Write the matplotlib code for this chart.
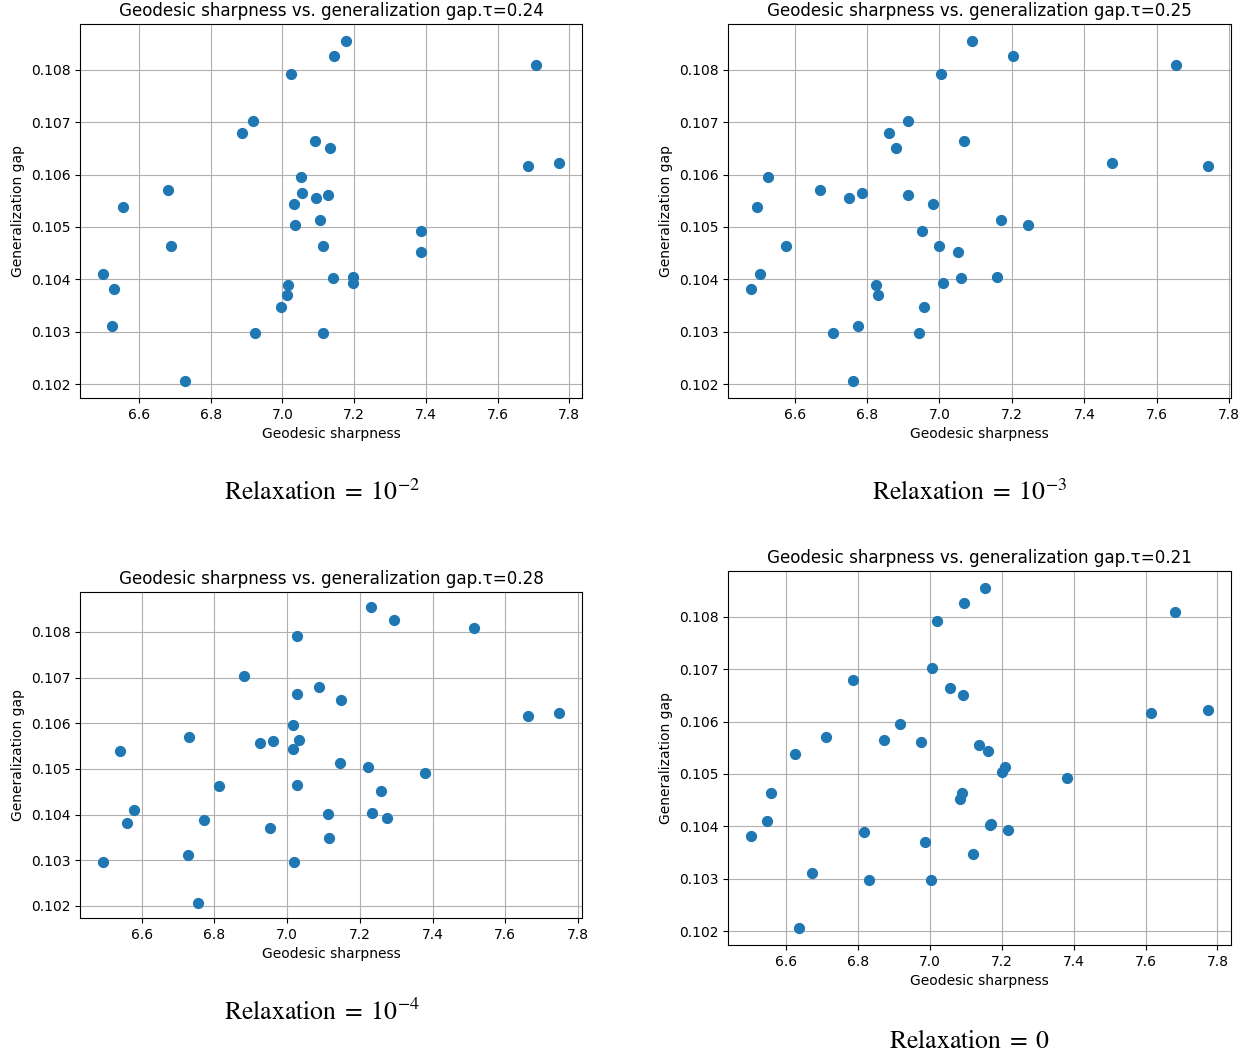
import matplotlib
matplotlib.use("Agg")
import matplotlib.pyplot as plt

# generalization gap per model (same models in every panel)
gap = [0.10855, 0.10827, 0.10809, 0.10792, 0.10703, 0.10679, 0.10664, 0.10650,
       0.10622, 0.10617, 0.10596, 0.10570, 0.10564, 0.10561, 0.10556, 0.10543,
       0.10539, 0.10514, 0.10504, 0.10492, 0.10463, 0.10464, 0.10452, 0.10411,
       0.10402, 0.10404, 0.10393, 0.10389, 0.10382, 0.10371, 0.10348, 0.10311,
       0.10297, 0.10297, 0.10206]

sharp_1e2 = [7.177, 7.145, 7.707, 7.023, 6.918, 6.888, 7.090, 7.132,
             7.772, 7.684, 7.051, 6.681, 7.054, 7.127, 7.094, 7.032,
             6.554, 7.105, 7.036, 7.387, 6.689, 7.113, 7.387, 6.499,
             7.142, 7.197, 7.197, 7.016, 6.531, 7.013, 6.995, 6.524,
             6.923, 7.113, 6.729]

sharp_1e3 = [7.089, 7.203, 7.653, 7.003, 6.912, 6.861, 7.067, 6.881,
             7.477, 7.742, 6.525, 6.670, 6.785, 6.914, 6.750, 6.981,
             6.497, 7.170, 7.245, 6.953, 6.577, 6.999, 7.052, 6.505,
             7.060, 7.159, 7.010, 6.825, 6.479, 6.829, 6.957, 6.776,
             6.705, 6.944, 6.762]

sharp_1e4 = [7.230, 7.295, 7.514, 7.028, 6.882, 7.088, 7.027, 7.149,
             7.748, 7.661, 7.015, 6.730, 7.033, 6.962, 6.924, 7.015,
             6.541, 7.144, 7.222, 7.378, 6.812, 7.028, 7.259, 6.579,
             7.111, 7.233, 7.274, 6.772, 6.560, 6.952, 7.115, 6.728,
             6.493, 7.018, 6.756]

sharp_0 = [7.153, 7.095, 7.681, 7.021, 7.007, 6.786, 7.057, 7.093,
           7.774, 7.616, 6.918, 6.713, 6.873, 6.976, 7.138, 7.162,
           6.625, 7.210, 7.202, 7.381, 6.559, 7.091, 7.085, 6.548,
           7.167, 7.170, 7.218, 6.817, 6.503, 6.986, 7.121, 6.673,
           6.830, 7.005, 6.636]

taus = ["0.24", "0.25", "0.28", "0.21"]
captions = [r"$\mathrm{Relaxation}\;=\;10^{-2}$", r"$\mathrm{Relaxation}\;=\;10^{-3}$",
            r"$\mathrm{Relaxation}\;=\;10^{-4}$", r"$\mathrm{Relaxation}\;=\;0$"]

W, H = 1248, 1055
# axes boxes in pixels: left, top, right, bottom
boxes = [(80, 24, 582, 398), (728, 24, 1231, 398),
         (80, 592, 582, 918), (728, 571, 1231, 945)]
caption_pos = [(322, 493), (970, 493), (322, 1013), (970, 1041)]

plt.rcParams["mathtext.fontset"] = "stix"

fig = plt.figure(figsize=(W / 100, H / 100), dpi=100)

for xs, tau, (l, t, r, b), cap, (cx, cy) in zip(
        [sharp_1e2, sharp_1e3, sharp_1e4, sharp_0], taus, boxes, captions, caption_pos):
    ax = fig.add_axes([l / W, 1 - b / H, (r - l) / W, (b - t) / H])
    ax.scatter(xs, gap, s=50, color="#1f77b4", zorder=3)
    ax.grid(True, color="#b0b0b0", lw=0.8)
    ax.set_axisbelow(True)
    ax.set_title("Geodesic sharpness vs. generalization gap.\u03c4=" + tau, fontsize=12.1)
    ax.set_xlabel("Geodesic sharpness", fontsize=10)
    ax.set_ylabel("Generalization gap", fontsize=10)
    ax.set_yticks([0.102, 0.103, 0.104, 0.105, 0.106, 0.107, 0.108])
    ax.tick_params(labelsize=10)
    fig.text(cx / W, 1 - cy / H, cap, ha="center", va="center", fontsize=18.5)

fig.savefig("out.png", dpi=100)
